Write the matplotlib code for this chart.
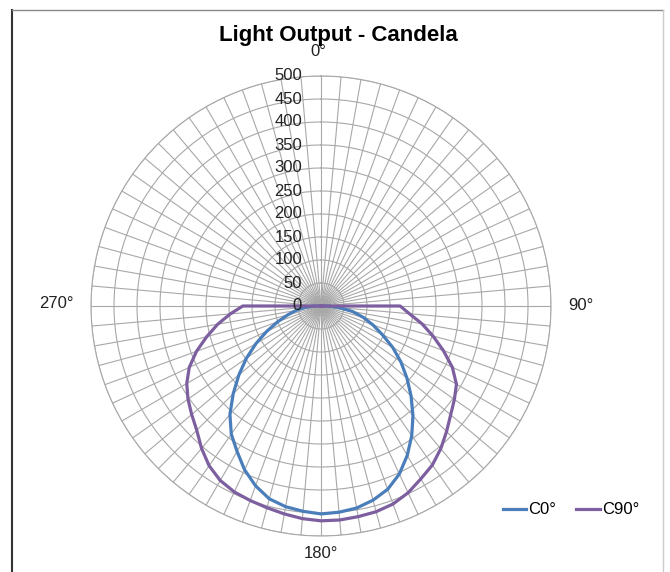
import numpy as np
from matplotlib import pyplot as plt
from matplotlib.lines import Line2D

plt.rcParams['font.family'] = ['Liberation Sans', 'DejaVu Sans']

# candela values every 5 degrees, 0..355
angles_deg = list(range(0, 360, 5))
c0 = ([0] * 18
      + [15, 40, 70, 95, 120, 147, 180, 212, 244, 277, 311, 344, 375, 403, 424, 437, 446, 450, 452]
      + [448, 443, 434, 416, 393, 365, 340, 308, 270, 233, 198, 163, 130, 100, 75, 55, 35, 15]
      + [0] * 17)
c90 = ([0] * 18
       + [172, 193, 223, 252, 283, 315, 340, 354, 368, 386, 405, 422, 434, 448, 458, 463, 465, 467, 467]
       + [464, 459, 454, 450, 446, 438, 424, 404, 382, 367, 353, 337, 316, 288, 257, 228, 198, 170]
       + [0] * 17)
series_names = ["C0°", "C90°"]
series_colors = ["#4a7ebb", "#7d5fa0"]
r_ticks = list(range(0, 501, 50))
angle_labels = {0: "0°", 90: "90°", 180: "180°", 270: "270°"}

W, H = 670, 572
fig = plt.figure(figsize=(W / 100, H / 100), dpi=100)

cx, cy, R = 321, 306, 230
ax = fig.add_axes([(cx - R) / W, (H - cy - R) / H, 2 * R / W, 2 * R / H], projection='polar')
ax.set_theta_zero_location('N')
ax.set_theta_direction(-1)
ax.set_ylim(0, 500)

grid_col = "#a8a8a8"
ax.set_rticks(r_ticks)
ax.set_yticklabels([])
ax.set_xticks(np.deg2rad(angles_deg))
ax.set_xticklabels([])
ax.grid(True, color=grid_col, linewidth=0.8)
ax.spines['polar'].set_color(grid_col)
ax.spines['polar'].set_linewidth(0.8)
ax.tick_params(length=0)

theta = np.deg2rad(angles_deg + [360])
for vals, name, col in zip([c0, c90], series_names, series_colors):
    ax.plot(theta, vals + vals[:1], color=col, linewidth=2.3, label=name,
            solid_joinstyle='round', clip_on=False)

# radial value labels left of the 0 deg spoke
for r in r_ticks:
    ax.annotate(str(r), xy=(0, r), xytext=(-19, 0), textcoords='offset pixels',
                ha='right', va='center', fontsize=12, color='#222222')

# angle labels
offsets = {0: (-3, 24), 90: (30, 0), 180: (0, -17), 270: (-35, 3)}
for a, txt in angle_labels.items():
    ax.annotate(txt, xy=(np.deg2rad(a), 500), xytext=offsets[a], textcoords='offset pixels',
                ha='center', va='center', fontsize=12, color='#222222', annotation_clip=False)

fig.text(338 / W, 1 - 35 / H, "Light Output - Candela", ha='center', va='center',
         fontsize=16, fontweight='bold')

fig.legend(loc='center', bbox_to_anchor=(571 / W, 1 - 510 / H), ncol=2, frameon=False,
           fontsize=12, handlelength=1.4, handletextpad=0.15, columnspacing=1.2)

# chart border
fig.add_artist(Line2D([12 / W, 12 / W], [0, 1 - 10 / H], color='#333333', linewidth=1.5))
fig.add_artist(Line2D([12 / W, 663 / W], [1 - 10 / H, 1 - 10 / H], color='#888888', linewidth=1))
fig.add_artist(Line2D([663 / W, 663 / W], [0, 1 - 10 / H], color='#cccccc', linewidth=1))

fig.savefig("out.png", dpi=100)
